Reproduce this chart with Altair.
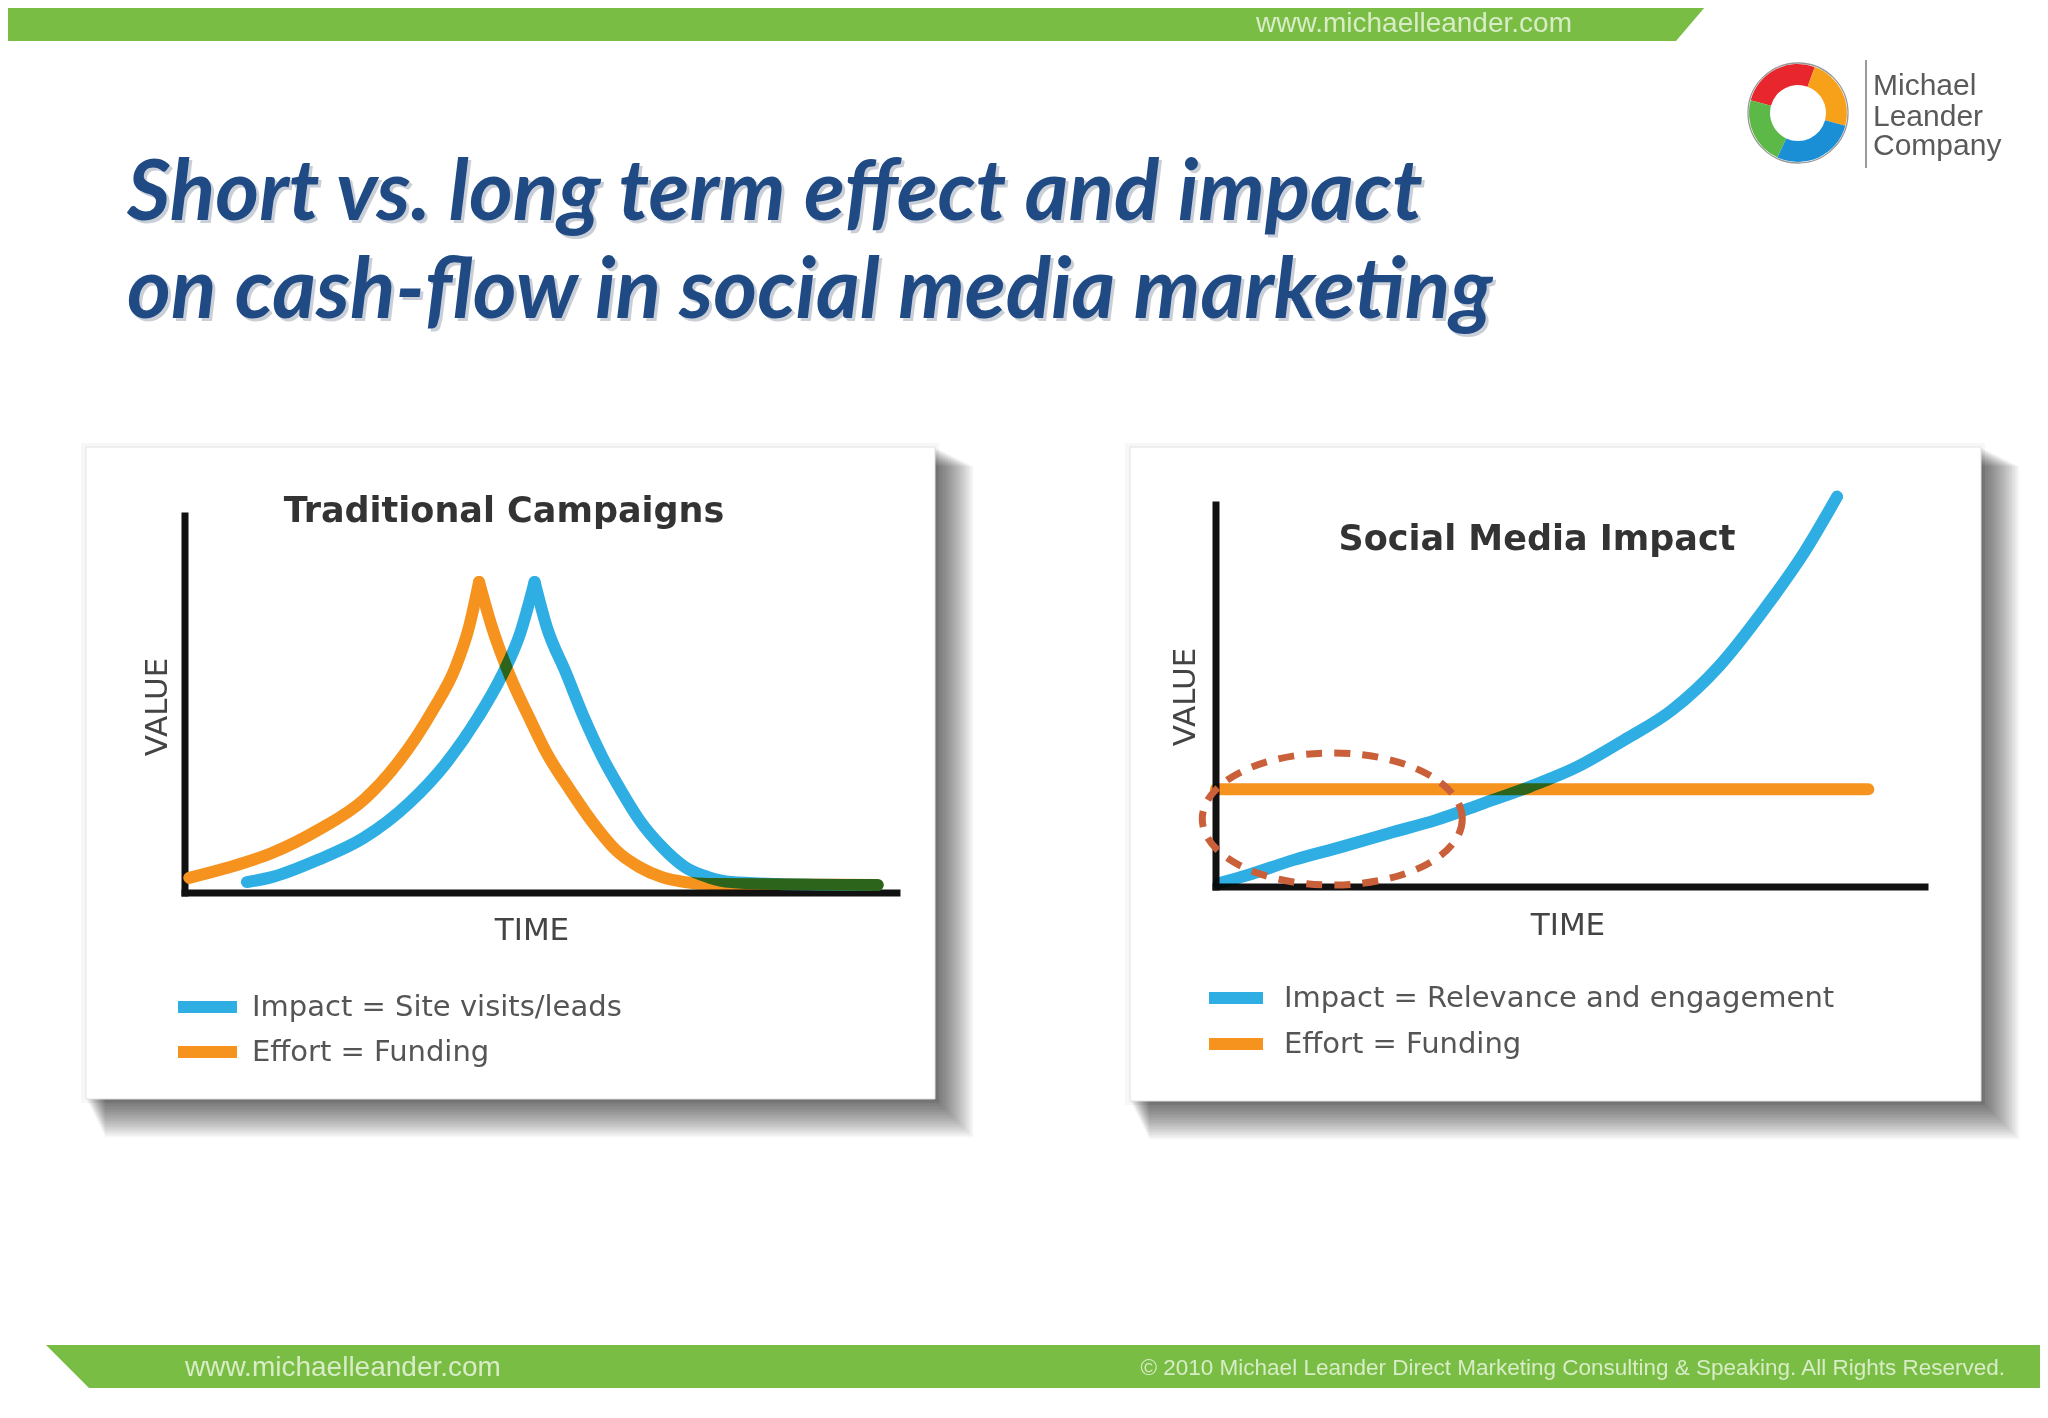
import math
import altair as alt
import pandas as pd

# ---------------------------------------------------------------- texts
TITLE_LINES = ["Short vs. long term effect and impact",
               "on cash-flow in social media marketing"]
SITE = "www.michaelleander.com"
COPYRIGHT = "© 2010 Michael Leander Direct Marketing Consulting & Speaking. All Rights Reserved."
LOGO_WORDS = ["Michael", "Leander", "Company"]
LEFT_TITLE = "Traditional Campaigns"
RIGHT_TITLE = "Social Media Impact"
LEFT_SERIES = ["Impact = Site visits/leads", "Effort = Funding"]
RIGHT_SERIES = ["Impact = Relevance and engagement", "Effort = Funding"]
X_TITLE = "TIME"
Y_TITLE = "VALUE"

# ---------------------------------------------------------------- values
# time runs 0..100 along the x axis, value 0..100 up the y axis
trad_impact_time = [8.7, 12.2, 18.7, 25.1, 31.5, 36.7, 41.2, 44.4, 47.1, 49.1, 50.8,
                    53.5, 56.0, 58.6, 61.2, 63.8, 67.0, 70.2, 73.5, 76.7, 83.1, 97.3]
trad_impact_value = [2.9, 4.2, 8.8, 14.6, 23.9, 34.5, 46.7, 57.3, 69.0, 82.5, 70.6,
                     58.4, 46.7, 36.1, 27.3, 19.4, 12.2, 6.9, 4.2, 2.9, 2.4, 2.1]
trad_effort_time = [0.6, 5.8, 12.2, 18.7, 25.1, 30.2, 34.8, 38.0, 39.9, 41.3, 43.1,
                    45.7, 48.3, 50.8, 54.1, 57.3, 60.5, 63.8, 67.0, 70.2, 73.5, 97.3]
trad_effort_value = [4.0, 6.6, 10.6, 16.7, 24.7, 35.3, 48.5, 59.9, 70.6, 82.5, 70.6,
                     57.3, 46.7, 37.1, 27.3, 18.6, 11.4, 6.9, 4.2, 2.9, 2.4, 2.1]

social_impact_time = [0.4, 4.4, 11.0, 17.7, 24.4, 31.0, 37.7, 44.3, 51.0, 57.6, 64.3,
                      70.9, 77.6, 82.9, 87.6]
social_impact_value = [1.0, 3.1, 7.1, 10.5, 14.1, 17.5, 21.9, 26.3, 31.5, 38.5, 46.3,
                       57.7, 73.4, 87.4, 102.2]
social_effort_time = [0.0, 92.0]
social_effort_value = [25.6, 25.6]

highlight_time = [16.4]    # centre of the dashed ring
highlight_value = [17.8]

AXIS_DOMAIN = [0, 100]

LOGO_SEGMENTS = ["red", "orange", "blue", "green"]
LOGO_SPANS = [95, 85, 100, 80]

# ---------------------------------------------------------------- layout / style
W, H = 2032, 1402
OX, OY = 8, 8                       # page margin
GREEN = "#79bd45"
BAR_TEXT = "#d8ecc6"
BLUE = "#2eaee3"
ORANGE = "#f6931e"
DASH = "#c9603a"
NAVY = "#1f4a84"
SANS = "DejaVu Sans"
BAR_FONT = "Liberation Sans"
LOGO_FONT = "Liberation Sans"
TITLE_FONT = "Lato"

PX = alt.Scale(domain=[OX, OX + W], range=[0, W], nice=False, zero=False)
PY = alt.Scale(domain=[OY, OY + H], range=[0, H], nice=False, zero=False)


def data_scales(x0, x1, y0, y1):
    return (alt.Scale(domain=AXIS_DOMAIN, range=[x0 - OX, x1 - OX], nice=False, zero=False),
            alt.Scale(domain=AXIS_DOMAIN, range=[y0 - OY, y1 - OY], nice=False, zero=False))


LX, LY = data_scales(185, 897, 893, 516)      # left panel plot frame
RX, RY = data_scales(1216, 1925, 887, 505)    # right panel plot frame


def text_layer(txt, x, y, size, color, font, weight="normal", style="normal",
               align="left", angle=0, opacity=1.0):
    return alt.Chart(pd.DataFrame({"txt": [txt]})).mark_text(
        align=align, baseline="alphabetic", font=font, fontSize=size,
        fontWeight=weight, fontStyle=style, color=color, angle=angle, opacity=opacity
    ).encode(x=alt.value(x - OX), y=alt.value(y - OY), text="txt:N")


def rects(rows, **mk):
    df = pd.DataFrame(rows, columns=["x0", "y0", "x1", "y1"])
    return alt.Chart(df).mark_rect(**mk).encode(
        x=alt.X("x0:Q", scale=PX, axis=None), x2="x1:Q",
        y=alt.Y("y0:Q", scale=PY, axis=None), y2="y1:Q")


def band(xs, ys, ys2, **mk):
    df = pd.DataFrame({"x": xs, "y": ys, "y2": ys2})
    return alt.Chart(df).mark_area(orient="vertical", **mk).encode(
        x=alt.X("x:Q", scale=PX, axis=None),
        y=alt.Y("y:Q", scale=PY, axis=None), y2="y2:Q")


def panel(x0, y0, x1, y1):
    steps = [1 + 1.5 * k for k in range(26)]
    shadow = rects([(x0 + d / 2, y0 + d / 2, x1 + d, y1 + d) for d in steps],
                   color="black", opacity=0.026)
    halo = rects([(x0 - 5, y0 - 4, x1 + 4, y1 + 4)], color="black", opacity=0.03)
    box = rects([(x0, y0, x1, y1)], fill="white", stroke="#e2e2e2", strokeWidth=1)
    return [halo, shadow, box]


def axes_layer(sx, sy):
    df = pd.DataFrame({"t0": [AXIS_DOMAIN[0], AXIS_DOMAIN[0]], "t1": [AXIS_DOMAIN[1], AXIS_DOMAIN[0]],
                       "v0": [AXIS_DOMAIN[0], AXIS_DOMAIN[0]], "v1": [AXIS_DOMAIN[0], AXIS_DOMAIN[1]]})
    return alt.Chart(df).mark_rule(color="#111111", strokeWidth=7, strokeCap="square").encode(
        x=alt.X("t0:Q", scale=sx, axis=None), x2="t1:Q",
        y=alt.Y("v0:Q", scale=sy, axis=None), y2="v1:Q")


def split_at_peak(t, v):
    """rise / fall halves of a curve, both containing the apex, so the apex stays sharp."""
    p = max(range(len(v)), key=lambda i: v[i])
    if 0 < p < len(v) - 1:
        return {"rise": (t[:p + 1], v[:p + 1]), "fall": (t[p:], v[p:])}
    return {"all": (t, v)}


def make_legend(leg_x, leg_y, sym_len, lab_off, row_pad):
    return alt.Legend(orient="none", legendX=leg_x - OX, legendY=leg_y - OY, title=None,
                      symbolType="stroke", symbolStrokeWidth=12, symbolSize=sym_len ** 2,
                      labelFont=SANS, labelFontSize=29, labelColor="#555555",
                      labelOffset=lab_off, rowPadding=row_pad, padding=0,
                      clipHeight=30, labelLimit=900, symbolOpacity=1)


def curve_layer(pieces, series, sx, sy, legend=None, blend=None):
    """pieces: list of (series name, part tag, times, values)"""
    frames = [pd.DataFrame({"time": t, "value": v, "series": name, "part": name + tag})
              for name, tag, t, v in pieces]
    df = pd.concat(frames, ignore_index=True)
    df["i"] = range(len(df))
    mk = dict(strokeWidth=12, strokeCap="round", strokeJoin="round", interpolate="monotone")
    if blend:
        mk["blend"] = blend
    return alt.Chart(df).mark_line(**mk).encode(
        x=alt.X("time:Q", scale=sx, axis=None),
        y=alt.Y("value:Q", scale=sy, axis=None),
        color=alt.Color("series:N", scale=alt.Scale(domain=series, range=[BLUE, ORANGE]),
                        legend=legend),
        detail="part:N",
        order="i:Q")


layers = []

# green bands
layers.append(band([0, 1676, 1711], [0, 0, 0], [41, 41, 0], color=GREEN))
layers.append(band([46, 89, 2048], [1345, 1345, 1345], [1345, 1388, 1388], color=GREEN))
layers.append(text_layer(SITE, 1414, 32, 28, BAR_TEXT, BAR_FONT, align="center"))
layers.append(text_layer(SITE, 185, 1376, 28, BAR_TEXT, BAR_FONT))
layers.append(text_layer(COPYRIGHT, 2005, 1375, 22.5, BAR_TEXT, BAR_FONT, align="right"))

# logo
logo_df = pd.DataFrame({"seg": LOGO_SEGMENTS, "span": LOGO_SPANS, "k": range(4)})
a0 = math.radians(285)
layers.append(alt.Chart(logo_df).mark_arc(innerRadius=28, outerRadius=49,
                                          x=1798 - OX, y=113 - OY).encode(
    theta=alt.Theta("span:Q", stack=True,
                    scale=alt.Scale(domain=[0, 360], range=[a0, a0 + 2 * math.pi])),
    color=alt.Color("seg:N", scale=alt.Scale(domain=LOGO_SEGMENTS,
                                             range=["#e8262d", "#f7a11a", "#1b8fd6", "#5cb947"]),
                    legend=None),
    order="k:Q"))
layers.append(alt.Chart(pd.DataFrame({"k": [0]})).mark_point(
    shape="circle", size=100 ** 2, filled=False, stroke="#6a6a6a", strokeWidth=1.3).encode(
    x=alt.value(1798 - OX), y=alt.value(113 - OY)))
layers.append(rects([(1865, 60, 1867, 168)], color="#9a9a9a"))
for word, base in zip(LOGO_WORDS, [95, 126, 155]):
    layers.append(text_layer(word, 1873, base, 30, "#5a5a5a", LOGO_FONT))

# slide title with soft shadow
for line, base in zip(TITLE_LINES, [220, 318]):
    layers.append(text_layer(line, 130, base + 3, 84, "#8c96a8", TITLE_FONT,
                             weight="bold", style="italic", opacity=0.45))
    layers.append(text_layer(line, 127, base, 84, NAVY, TITLE_FONT,
                             weight="bold", style="italic"))

# panels
layers += panel(86, 447, 935, 1099)
layers += panel(1130, 447, 1981, 1101)

# left chart
layers.append(axes_layer(LX, LY))
imp = split_at_peak(trad_impact_time, trad_impact_value)
eff = split_at_peak(trad_effort_time, trad_effort_value)
# impact (both halves), opaque; owns the legend
layers.append(curve_layer([(LEFT_SERIES[0], k, t, v) for k, (t, v) in imp.items()],
                          LEFT_SERIES, LX, LY, legend=make_legend(172, 1007 - 15, 59, 9, 15)))
# effort falling half darkens where it runs over impact
layers.append(curve_layer([(LEFT_SERIES[1], "fall") + eff["fall"]], LEFT_SERIES, LX, LY,
                          blend="multiply"))
layers.append(curve_layer([(LEFT_SERIES[1], "rise") + eff["rise"]], LEFT_SERIES, LX, LY))
layers.append(text_layer(LEFT_TITLE, 504, 522, 35, "#333333", SANS, weight="bold", align="center"))
layers.append(text_layer(X_TITLE, 532, 940, 31, "#444444", SANS, align="center"))
layers.append(text_layer(Y_TITLE, 167, 707, 31, "#444444", SANS, align="center", angle=270))

# right chart
layers.append(axes_layer(RX, RY))
layers.append(curve_layer([(RIGHT_SERIES[1], "all", social_effort_time, social_effort_value),
                           (RIGHT_SERIES[0], "all", social_impact_time, social_impact_value)],
                          RIGHT_SERIES, RX, RY, legend=make_legend(1203, 998 - 15, 54, 15, 16),
                          blend="multiply"))
ring = ("M1,0 C1,0.2806 0.5523,0.508 0,0.508 C-0.5523,0.508 -1,0.2806 -1,0 "
        "C-1,-0.2806 -0.5523,-0.508 0,-0.508 C0.5523,-0.508 1,-0.2806 1,0 Z")
layers.append(alt.Chart(pd.DataFrame({"t": highlight_time, "v": highlight_value})).mark_point(
    shape=ring, size=260 ** 2, filled=False, stroke=DASH, strokeWidth=7,
    strokeDash=[16, 12], opacity=1).encode(
    x=alt.X("t:Q", scale=RX, axis=None), y=alt.Y("v:Q", scale=RY, axis=None)))
layers.append(text_layer(RIGHT_TITLE, 1537, 550, 35, "#333333", SANS, weight="bold", align="center"))
layers.append(text_layer(X_TITLE, 1568, 935, 31, "#444444", SANS, align="center"))
layers.append(text_layer(Y_TITLE, 1195, 697, 31, "#444444", SANS, align="center", angle=270))

chart = alt.layer(*layers).properties(
    width=W, height=H, padding=0, autosize="none", background="white"
).resolve_scale(
    x="independent", y="independent", color="independent", theta="independent"
).resolve_legend(color="independent").configure_view(stroke=None)

chart.save("out.html", embed_options={"renderer": "svg", "actions": False})
